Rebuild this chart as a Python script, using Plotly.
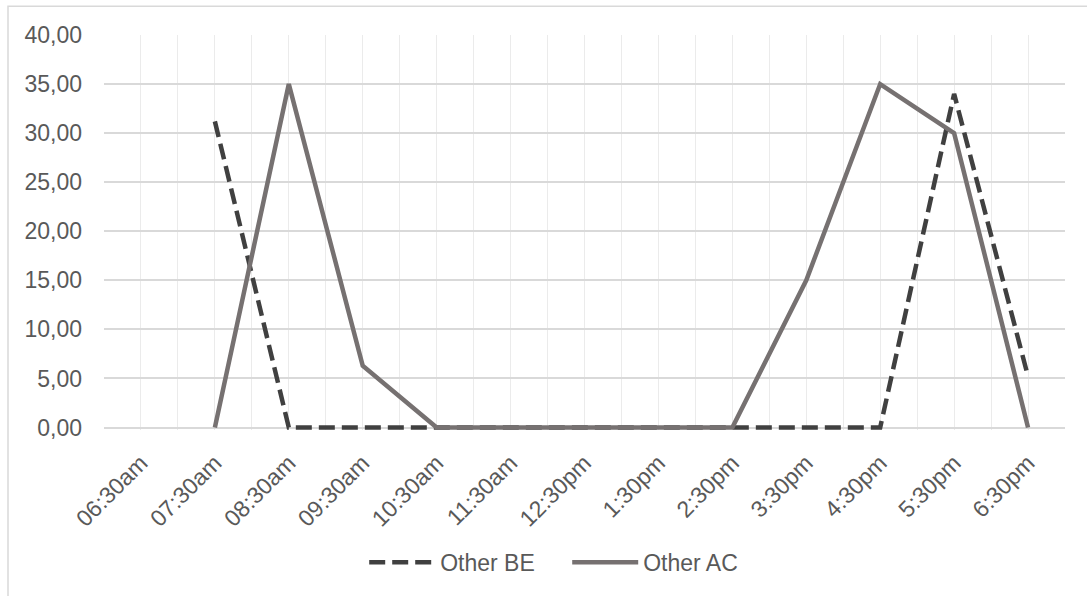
import plotly.graph_objects as go

categories = ["06:30am", "07:30am", "08:30am", "09:30am", "10:30am", "11:30am",
              "12:30pm", "1:30pm", "2:30pm", "3:30pm", "4:30pm", "5:30pm", "6:30pm"]
other_be = [None, 31.2, 0, 0, 0, 0, 0, 0, 0, 0, 0, 34.0, 5.2]
other_ac = [None, 0, 35.0, 6.3, 0, 0, 0, 0, 0, 15.0, 35.0, 30.0, 0]
y_ticks = [0, 5, 10, 15, 20, 25, 30, 35, 40]
y_ticklabels = ["0,00", "5,00", "10,00", "15,00", "20,00", "25,00", "30,00", "35,00", "40,00"]

xs = list(range(len(categories)))
FONT = "Liberation Sans, Arial, sans-serif"
TXT = "#595959"
FS = 23

fig = go.Figure()
fig.add_trace(go.Scatter(x=xs, y=other_be, name="Other BE", mode="lines",
                         line=dict(color="#404040", width=4.5, dash="16px,7px"),
                         connectgaps=False))
fig.add_trace(go.Scatter(x=xs, y=other_ac, name="Other AC", mode="lines",
                         line=dict(color="#767171", width=4.5),
                         connectgaps=False))

fig.update_layout(
    width=1087, height=596,
    margin=dict(l=104, r=22, t=35, b=164),
    paper_bgcolor="white", plot_bgcolor="white",
    font=dict(family=FONT, size=FS, color=TXT),
    showlegend=True,
    legend=dict(orientation="h", x=0.482, xanchor="center", y=-0.335, yanchor="middle",
                font=dict(family=FONT, size=FS, color=TXT), itemwidth=66,
                entrywidth=122, entrywidthmode="pixels",
                bgcolor="rgba(0,0,0,0)"),
    xaxis=dict(range=[-0.5, 12.5], tickmode="array", tickvals=xs, ticktext=categories,
               tickangle=-45, showgrid=True, gridcolor="#ebebeb", gridwidth=1.3,
               zeroline=False, showline=False, ticks="", ticklabelstandoff=14,
               tickfont=dict(family=FONT, size=FS, color=TXT),
               minor=dict(tickmode="linear", tick0=-0.5, dtick=1, showgrid=True,
                          gridcolor="#ebebeb", gridwidth=1.3, ticks="")),
    yaxis=dict(range=[-0.25, 40], tickmode="array", tickvals=y_ticks, ticktext=y_ticklabels,
               showgrid=True, gridcolor="#d9d9d9", gridwidth=1.5, zeroline=False,
               showline=False, ticks="", ticklabelstandoff=21,
               tickfont=dict(family=FONT, size=FS, color=TXT)),
    shapes=[dict(type="rect", xref="paper", yref="paper",
                 x0=(8 - 104) / 961, x1=1.2, y0=-1.0, y1=(432 - 6) / 397,
                 line=dict(color="#d9d9d9", width=1.5), fillcolor="rgba(0,0,0,0)",
                 layer="below")],
)

fig.write_html("out.html")
